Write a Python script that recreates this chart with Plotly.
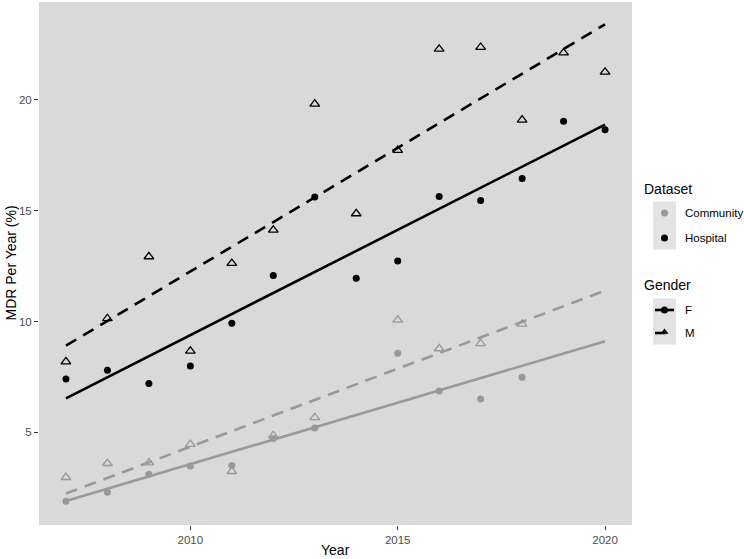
import numpy as np
import plotly.graph_objects as go

years = [2007, 2008, 2009, 2010, 2011, 2012, 2013, 2014, 2015, 2016, 2017, 2018, 2019, 2020]
hosp_f = [7.41, 7.80, 7.20, 8.00, 9.92, 12.08, 15.62, 11.96, 12.73, 15.64, 15.46, 16.46, 19.04, 18.66]
hosp_m = [8.19, 10.14, 12.93, 8.67, 12.63, 14.13, 19.82, 14.87, 17.73, 22.30, 22.38, 19.10, 22.13, 21.26]

comm_years = [2007, 2008, 2009, 2010, 2011, 2012, 2013, 2015, 2016, 2017, 2018]
comm_f = [1.89, 2.30, 3.11, 3.48, 3.51, 4.72, 5.20, 8.57, 6.87, 6.51, 7.49]
comm_m = [2.97, 3.60, 3.63, 4.46, 3.24, 4.86, 5.67, 10.07, 8.78, 9.01, 9.89]

x_ticks = [2010, 2015, 2020]
y_ticks = [5, 10, 15, 20]
fit_span = [2007, 2020]

BLACK = "#000000"
GREY = "#999999"
PANEL = "#D9D9D9"
KEYBG = "#E3E3E3"
FONT = "Liberation Sans, Arial, Helvetica, sans-serif"
DASH = "12px,8px"

fig = go.Figure()

series = [
    (years, hosp_f, BLACK, "circle", "solid"),
    (years, hosp_m, BLACK, "triangle-up-open", DASH),
    (comm_years, comm_f, GREY, "circle", "solid"),
    (comm_years, comm_m, GREY, "triangle-up-open", DASH),
]

for xs, ys, col, sym, dash in series:
    k, b = np.polyfit(np.array(xs, float), np.array(ys, float), 1)
    xl = np.array(fit_span, float)
    fig.add_trace(go.Scatter(x=xl, y=k * xl + b, mode="lines",
                             line=dict(color=col, width=2.6, dash=dash),
                             showlegend=False, hoverinfo="skip"))

for xs, ys, col, sym, dash in series:
    if sym == "circle":
        marker = dict(symbol="circle", size=7, color=col, line=dict(width=0))
    else:
        marker = dict(symbol="triangle-up-open", size=8.5, color=col, line=dict(width=1.3, color=col))
    fig.add_trace(go.Scatter(x=xs, y=ys, mode="markers", marker=marker, showlegend=False))

# ---- geometry (pixels) ----
W, H = 744, 559
ML, MR, MT, MB = 39, 5, 2, 34
plot_w = W - ML - MR
plot_h = H - MT - MB
main_right = 632
dom_main = (main_right - ML) / plot_w
leg_left_px = 639
dom_leg0 = (leg_left_px - ML) / plot_w

def px(xp):
    return (xp - ML) / plot_w

def py(yp):
    return 1 - (yp - MT) / plot_h

key_x0, key_x1 = 653, 676
key_cx = (key_x0 + key_x1) / 2
label_x = 683
title_x = 642
ds_title_y = 189
ds_rows = [213, 238]
gd_title_y = 285
gd_rows = [310, 333]

shapes = [dict(type="rect", xref="x domain", yref="y domain", x0=0, x1=1, y0=0, y1=1,
               fillcolor=PANEL, line=dict(width=0), layer="below")]
for rows in (ds_rows, gd_rows):
    shapes.append(dict(type="rect", xref="paper", yref="paper",
                       x0=px(key_x0), x1=px(key_x1), y0=py(rows[0] - 11.5), y1=py(rows[-1] + 11.5),
                       fillcolor=KEYBG, line=dict(width=0), layer="below"))

for yy, col in zip(ds_rows, [GREY, BLACK]):
    fig.add_trace(go.Scatter(x=[key_cx], y=[yy], xaxis="x2", yaxis="y2", mode="markers",
                             marker=dict(symbol="circle", size=7, color=col),
                             showlegend=False, hoverinfo="skip", cliponaxis=False))
fig.add_trace(go.Scatter(x=[key_x0 + 2, key_x1 - 2], y=[gd_rows[0]] * 2, xaxis="x2", yaxis="y2",
                         mode="lines", line=dict(color=BLACK, width=2.6),
                         showlegend=False, hoverinfo="skip", cliponaxis=False))
fig.add_trace(go.Scatter(x=[key_cx], y=[gd_rows[0]], xaxis="x2", yaxis="y2", mode="markers",
                         marker=dict(symbol="circle", size=7, color=BLACK),
                         showlegend=False, hoverinfo="skip", cliponaxis=False))
fig.add_trace(go.Scatter(x=[key_x0 + 2, key_cx + 1], y=[gd_rows[1]] * 2, xaxis="x2", yaxis="y2",
                         mode="lines", line=dict(color=BLACK, width=2.6),
                         showlegend=False, hoverinfo="skip", cliponaxis=False))
fig.add_trace(go.Scatter(x=[key_cx], y=[gd_rows[1] - 1], xaxis="x2", yaxis="y2", mode="markers",
                         marker=dict(symbol="triangle-up", size=7, color=BLACK),
                         showlegend=False, hoverinfo="skip", cliponaxis=False))

annotations = []
def txt(x, y, s, size, **kw):
    d = dict(x=px(x), y=py(y), xref="paper", yref="paper", text=s, showarrow=False,
             xanchor="left", yanchor="middle",
             font=dict(family=FONT, size=size, color="#000000"))
    d.update(kw)
    annotations.append(d)

txt(title_x, ds_title_y, "Dataset", 14)
txt(label_x, ds_rows[0], "Community", 11.5)
txt(label_x, ds_rows[1], "Hospital", 11.5)
txt(title_x, gd_title_y, "Gender", 14)
txt(label_x, gd_rows[0], "F", 11.5)
txt(label_x, gd_rows[1], "M", 11.5)
txt((ML + main_right) / 2, 550, "Year", 14, xanchor="center")
txt(10, (MT + H - MB) / 2, "MDR Per Year (%)", 14, xanchor="center", textangle=-90)

fig.update_layout(
    width=W, height=H,
    margin=dict(l=ML, r=MR, t=MT, b=MB, autoexpand=False),
    paper_bgcolor="white",
    plot_bgcolor="white",
    font=dict(family=FONT, color="#000000"),
    showlegend=False,
    hovermode=False,
    shapes=shapes,
    annotations=annotations,
    xaxis=dict(domain=[0, dom_main], range=[2006.35, 2020.65], tickvals=x_ticks,
               showgrid=False, zeroline=False, showline=False, automargin=False,
               ticks="outside", ticklen=4, tickwidth=1, tickcolor="#333333",
               tickfont=dict(family=FONT, size=11.5, color="#4D4D4D")),
    yaxis=dict(domain=[0, 1], range=[0.82, 24.42], tickvals=y_ticks,
               showgrid=False, zeroline=False, showline=False, automargin=False,
               ticks="outside", ticklen=4, tickwidth=1, tickcolor="#333333",
               tickfont=dict(family=FONT, size=11.5, color="#4D4D4D")),
    xaxis2=dict(domain=[dom_leg0, 1], range=[leg_left_px, W - MR], visible=False,
                anchor="y2", fixedrange=True, automargin=False),
    yaxis2=dict(domain=[0, 1], range=[H - MB, MT], visible=False, anchor="x2",
                fixedrange=True, automargin=False),
)

fig.write_html("out.html", config={"displayModeBar": False, "staticPlot": True},
               post_script="document.body.style.margin='0';document.body.style.padding='0';")
